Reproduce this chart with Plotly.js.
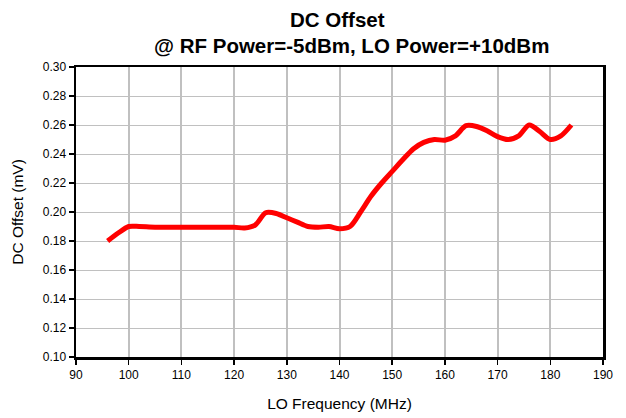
<!DOCTYPE html>
<html>
<head>
<meta charset="utf-8">
<script src="https://cdn.plot.ly/plotly-3.0.1.min.js"></script>
<style>html,body{margin:0;padding:0;background:#fff;}#chart{width:626px;height:418px;}</style>
</head>
<body>
<div id="chart"></div>
<script>
const freqMHz = [96, 98, 100, 102, 105, 110, 115, 120, 122, 124, 126, 128, 130, 132, 134, 136, 138, 140, 142, 144, 146, 148, 150, 152, 154, 156, 158, 160, 162, 164, 166, 168, 170, 172, 174, 176, 178, 180, 182, 184];
const dcOffset = [0.180, 0.1855, 0.190, 0.190, 0.1895, 0.1895, 0.1895, 0.1895, 0.189, 0.191, 0.1995, 0.199, 0.196, 0.193, 0.190, 0.1895, 0.190, 0.1885, 0.190, 0.200, 0.211, 0.220, 0.228, 0.236, 0.2435, 0.248, 0.250, 0.2495, 0.2525, 0.2595, 0.259, 0.256, 0.252, 0.250, 0.2525, 0.260, 0.2555, 0.250, 0.2525, 0.260];
const xTicks = [90, 100, 110, 120, 130, 140, 150, 160, 170, 180, 190];
const yTicks = [0.10, 0.12, 0.14, 0.16, 0.18, 0.20, 0.22, 0.24, 0.26, 0.28, 0.30];
const titleLine1 = 'DC Offset';
const titleLine2 = '@ RF Power=-5dBm, LO Power=+10dBm';

const font = 'Liberation Sans, Arial, sans-serif';
const trace = {
  x: freqMHz, y: dcOffset, type: 'scatter', mode: 'lines',
  line: {color: '#ff0000', width: 5, shape: 'spline', smoothing: 0.8},
  hoverinfo: 'none'
};
const titleFont = {family: font, size: 20.5, color: '#000'};
const layout = {
  width: 626, height: 418,
  margin: {l: 76, r: 23, t: 67, b: 61},
  paper_bgcolor: '#ffffff', plot_bgcolor: '#ffffff',
  showlegend: false,
  font: {family: font, color: '#000'},
  annotations: [
    {text: '<b>' + titleLine1 + '</b>', xref: 'paper', yref: 'paper', x: 0.497, y: 1, xanchor: 'center', yanchor: 'middle', yshift: 48, showarrow: false, font: titleFont},
    {text: '<b>' + titleLine2 + '</b>', xref: 'paper', yref: 'paper', x: 0.522, y: 1, xanchor: 'center', yanchor: 'middle', yshift: 21.5, showarrow: false, font: titleFont}
  ],
  xaxis: {
    range: [90, 190], tickvals: xTicks, ticktext: xTicks.map(String),
    showgrid: true, gridcolor: '#c0c0c0', gridwidth: 2,
    showline: true, linecolor: '#000', linewidth: 2.5, mirror: true,
    ticks: 'outside', ticklen: 5, tickcolor: '#000', tickwidth: 1.5,
    tickfont: {family: font, size: 12, color: '#000'}, zeroline: false,
    title: {text: 'LO Frequency (MHz)', font: {family: font, size: 15.5, color: '#000'}, standoff: 17}
  },
  yaxis: {
    range: [0.10, 0.30], tickvals: yTicks, ticktext: yTicks.map(v => v.toFixed(2)),
    showgrid: true, gridcolor: '#c0c0c0', gridwidth: 1,
    showline: true, linecolor: '#000', linewidth: 2.5, mirror: true,
    ticks: 'outside', ticklen: 5, tickcolor: '#000', tickwidth: 1.5,
    tickfont: {family: font, size: 12, color: '#000'}, zeroline: false,
    title: {text: 'DC Offset (mV)', font: {family: font, size: 15.5, color: '#000'}, standoff: 16}
  }
};
Plotly.newPlot('chart', [trace], layout, {displayModeBar: false, staticPlot: true});
</script>
</body>
</html>
